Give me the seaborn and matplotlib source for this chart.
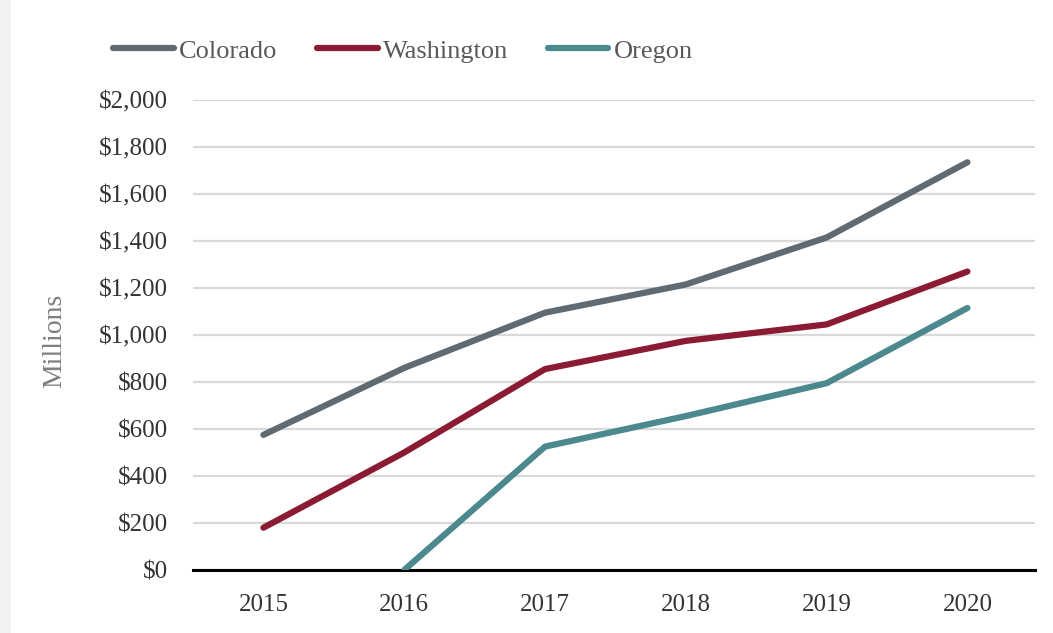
import numpy as np
import pandas as pd
import matplotlib
matplotlib.use("Agg")
import matplotlib.pyplot as plt
from matplotlib.patches import Rectangle
import seaborn as sns

years = [2015, 2016, 2017, 2018, 2019, 2020]
colorado = [575, 860, 1095, 1215, 1415, 1735]
washington = [180, 500, 855, 975, 1045, 1270]
oregon = [np.nan, 0, 525, 655, 795, 1115]
states = ["Colorado", "Washington", "Oregon"]
colors = ["#5f6a72", "#8a1b32", "#4b898e"]
yticks = [0, 200, 400, 600, 800, 1000, 1200, 1400, 1600, 1800, 2000]

df = pd.DataFrame({
    "Year": years * 3,
    "Value": colorado + washington + oregon,
    "State": [s for s in states for _ in years],
})

sns.set_theme(style="white")
plt.rcParams["font.family"] = ["Liberation Serif", "DejaVu Serif"]

W, H = 1053, 633
fig = plt.figure(figsize=(W / 100, H / 100), dpi=100)
fig.patches.append(Rectangle((0, 0), 11 / W, 1, transform=fig.transFigure,
                             facecolor="#f1f1f1", edgecolor="none", zorder=0))
ax = fig.add_axes([193 / W, 1 - 570 / H, (1035 - 193) / W, 470 / H])

sns.lineplot(data=df, x="Year", y="Value", hue="State", hue_order=states,
             palette=colors, linewidth=4.5, ax=ax, legend=True)
for line in ax.lines:
    line.set_solid_capstyle("round")

ax.set_xlim(2014.5, 2020.48)
ax.set_ylim(0, 2000)
ax.set_yticks(yticks)
ax.set_yticklabels([f"${v:,}" for v in yticks])
ax.set_xticks(years)
ax.set_xticklabels([str(y) for y in years])
ax.yaxis.grid(True, color="#d9d9d9", linewidth=1.6)
ax.set_axisbelow(True)
for s in ["top", "right", "left"]:
    ax.spines[s].set_visible(False)
ax.spines["bottom"].set_color("black")
ax.spines["bottom"].set_linewidth(2.2)
ax.spines["bottom"].set_zorder(1)
ax.tick_params(axis="y", labelsize=18, colors="#333333", length=0, pad=18)
ax.tick_params(axis="x", labelsize=18, colors="#333333", length=0, pad=17)
ax.set_xlabel("")
ax.set_ylabel("")
fig.text(55 / W, 1 - 341 / H, "Millions", rotation=90, ha="center", va="center",
         fontsize=20, color="#7f7f7f")

handles, labels = ax.get_legend_handles_labels()
for h in handles:
    h.set_linewidth(4.5)
    h.set_solid_capstyle("round")
leg = fig.legend(handles, labels, loc="center left",
                 bbox_to_anchor=(113 / W, 1 - 51 / H), bbox_transform=fig.transFigure,
                 ncol=3, frameon=False, handlelength=2.3, handletextpad=0.2,
                 columnspacing=1.5, borderpad=0, borderaxespad=0,
                 prop={"size": 19})
if ax.get_legend():
    ax.get_legend().remove()
for t in leg.get_texts():
    t.set_color("#595959")

fig.savefig("out.png", dpi=100, facecolor="white")
